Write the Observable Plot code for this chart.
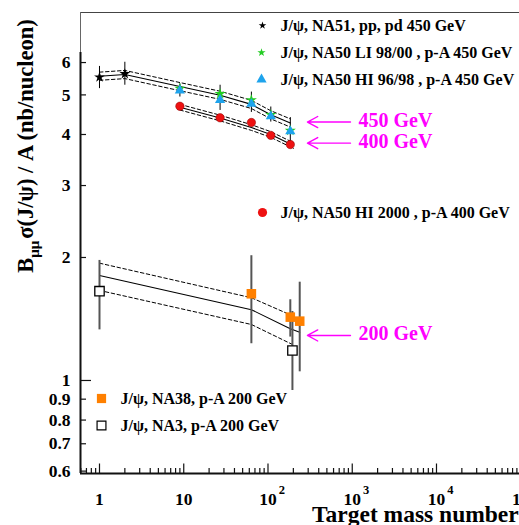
<!DOCTYPE html>
<html><head><meta charset="utf-8">
<script src="https://cdn.jsdelivr.net/npm/d3@7"></script>
<script src="https://cdn.jsdelivr.net/npm/@observablehq/plot@0.6"></script>
<style>html,body{margin:0;padding:0;overflow:hidden;background:#fff;width:519px;height:525px}
#chart{width:519px;height:525px;overflow:hidden}
#chart svg{max-width:none !important;width:540px;height:525px}</style>
</head><body><div id="chart"></div>
<script>
// ---------- data ----------
const A_NA51 = [1, 2];
const V_NA51 = [5.525, 5.63];
const LO_NA51 = [5.18, 5.28];
const HI_NA51 = [5.87, 6.01];

const A_NA50 = [9, 27, 63.5, 108, 184];
const V_LI9800 = [5.18, 5.03, 4.86, 4.47, 4.09];
const V_HI9698 = [5.125, 4.86, 4.755, 4.43, 4.07];
const LO_450 = [4.94, 4.58, 4.53, 4.29, 3.72];
const HI_450 = [5.32, 5.28, 5.08, 4.67, 4.40];
const V_HI2000 = [4.69, 4.395, 4.28, 3.98, 3.78];

const A_NA38 = [63.5, 184, 238];
const V_NA38 = [1.63, 1.429, 1.397];
const LO_NA38 = [1.23, 1.277, 1.05];
const HI_NA38 = [2.02, 1.576, 1.74];

const A_NA3 = [1, 195];
const V_NA3 = [1.654, 1.184];
const LO_NA3 = [1.33, 0.945];
const HI_NA3 = [1.967, 1.475];

// fitted curves
const A_FIT450 = [1, 2, 9, 27, 63.5, 108, 184];
const V_FIT450 = [5.556, 5.61, 5.24, 4.99, 4.74, 4.47, 4.27];
const BAND450 = 0.023;
const A_FIT400 = [9, 27, 63.5, 108, 200];
const V_FIT400 = [4.666, 4.39, 4.16, 4.0, 3.76];
const BAND400 = 0.016;
const A_FIT200 = [1, 63.5, 184, 238];
const V_FIT200 = [1.807, 1.49, 1.338, 1.313];
const A_BAND200 = [1, 63.5, 195];
const V_BAND200_HI = [1.937, 1.594, 1.44];
const V_BAND200_LO = [1.661, 1.371, 1.225];

// axes
const X_MAJOR = [1, 10, 100, 1000, 10000, 100000];
const X_LABELS = ["1", "10", "10", "10", "10", "10"];
const X_EXP = ["", "", "2", "3", "4", "5"];
const Y_TICKS = [0.6, 0.7, 0.8, 0.9, 1, 2, 3, 4, 5, 6];
const Y_LABELS = ["0.6", "0.7", "0.8", "0.9", "1", "2", "3", "4", "5", "6"];

// legend
const LEGEND_TOP = ["J/ψ, NA51, pp, pd 450 GeV", "J/ψ, NA50 LI 98/00 , p-A 450 GeV", "J/ψ, NA50 HI 96/98 , p-A 450 GeV"];
const LEGEND_400 = "J/ψ, NA50 HI 2000 , p-A 400 GeV";
const LEGEND_BOT = ["J/ψ, NA38, p-A 200 GeV", "J/ψ, NA3, p-A 200 GeV"];

// energy annotations
const ENERGY_LABELS = ["450 GeV", "400 GeV", "200 GeV"];
const ENERGY_Y = [4.29, 3.81, 1.289];
const ARROW_X_TAIL = 953, ARROW_X_TIP = 294, LABEL_X = 1187;

// ---------- helpers ----------
const zip = (xs, ys) => xs.map((x, i) => ({x, y: ys[i]}));
const bars = (xs, lo, hi) => xs.map((x, i) => ({x, lo: lo[i], hi: hi[i]}));

const xmin = 0.595, xmax = 171600, ymin = 0.592, ymax = 7.955;
const pxX = 84.25, pxY = 408.6;
const xOff = px => xmin * Math.pow(10, px / pxX);
const yOff = px => ymin * Math.pow(10, px / pxY);
const yAxisTop = 6.35;

const xMinor = [];
for (let d = -1; d <= 5; d++) for (let k = 2; k <= 9; k++) {
  const v = k * Math.pow(10, d);
  if (v > xmin && v < xmax) xMinor.push(v);
}

const FONT = "Liberation Serif, Times New Roman, serif";
const GREEN = "#22cc22", CYAN = "#1ea3ec", RED = "#ee1111", ORANGE = "#ff8000", MAGENTA = "#ff00ff";
const legendText = (txt, dx, dy) => Plot.text([txt], {frameAnchor: "top-left", dx, dy, text: d => d, textAnchor: "start", lineAnchor: "middle", fontSize: 16, fontWeight: "bold", fill: "black"});

const marks = [
  // frame / axes
  Plot.ruleY([ymax], {stroke: "#444", strokeWidth: 1}),
  Plot.ruleX([xmin], {y1: yAxisTop, y2: ymax, stroke: "#666", strokeWidth: 1}),
  Plot.ruleX([xmin], {y1: ymin, y2: yAxisTop, stroke: "#111", strokeWidth: 2}),
  Plot.ruleY([ymin], {stroke: "#111", strokeWidth: 2}),
  Plot.ruleX(X_MAJOR, {x: d => d, y1: ymin, y2: yOff(9.5), stroke: "#111", strokeWidth: 1.2}),
  Plot.ruleX(xMinor, {x: d => d, y1: ymin, y2: yOff(5), stroke: "#111", strokeWidth: 1.2}),
  Plot.ruleY(Y_TICKS, {y: d => d, x1: xmin, x2: d => d === 1 ? xOff(11) : xOff(6), stroke: "#111", strokeWidth: 1.2}),
  Plot.text(Y_TICKS, {x: xmin, y: d => d, text: (d, i) => Y_LABELS[i], dx: -10, textAnchor: "end", fontSize: 17.5, fontWeight: "bold", fill: "black"}),
  Plot.text(X_MAJOR, {x: d => d, y: ymin, text: (d, i) => X_LABELS[i], dy: 25.5, textAnchor: "middle", fontSize: 17.5, fontWeight: "bold", fill: "black"}),
  Plot.text(X_MAJOR, {x: d => d, y: ymin, text: (d, i) => X_EXP[i], dy: 16, dx: 14, textAnchor: "middle", fontSize: 12.5, fontWeight: "bold", fill: "black"}),

  // fit curves
  Plot.line(zip(A_FIT450, V_FIT450), {x: "x", y: "y", stroke: "black", strokeWidth: 1.1}),
  Plot.line(zip(A_FIT450, V_FIT450.map(v => v * (1 + BAND450))), {x: "x", y: "y", stroke: "black", strokeWidth: 1, strokeDasharray: "3.5,2.5"}),
  Plot.line(zip(A_FIT450, V_FIT450.map(v => v * (1 - BAND450))), {x: "x", y: "y", stroke: "black", strokeWidth: 1, strokeDasharray: "3.5,2.5"}),
  Plot.line(zip(A_FIT400, V_FIT400), {x: "x", y: "y", stroke: "black", strokeWidth: 1.1}),
  Plot.line(zip(A_FIT400, V_FIT400.map(v => v * (1 + BAND400))), {x: "x", y: "y", stroke: "black", strokeWidth: 1, strokeDasharray: "3.5,2.5"}),
  Plot.line(zip(A_FIT400, V_FIT400.map(v => v * (1 - BAND400))), {x: "x", y: "y", stroke: "black", strokeWidth: 1, strokeDasharray: "3.5,2.5"}),
  Plot.line(zip(A_FIT200, V_FIT200), {x: "x", y: "y", stroke: "black", strokeWidth: 1.1}),
  Plot.line(zip(A_BAND200, V_BAND200_HI), {x: "x", y: "y", stroke: "black", strokeWidth: 1, strokeDasharray: "3.5,2.5"}),
  Plot.line(zip(A_BAND200, V_BAND200_LO), {x: "x", y: "y", stroke: "black", strokeWidth: 1, strokeDasharray: "3.5,2.5"}),

  // error bars
  Plot.ruleX(bars(A_NA51, LO_NA51, HI_NA51), {x: "x", y1: "lo", y2: "hi", stroke: "black", strokeWidth: 1}),
  Plot.ruleX(bars(A_NA50, LO_450, HI_450), {x: "x", y1: "lo", y2: "hi", stroke: "black", strokeWidth: 1}),
  Plot.ruleX(bars(A_NA38, LO_NA38, HI_NA38), {x: "x", y1: "lo", y2: "hi", stroke: "#555", strokeWidth: 2}),
  Plot.ruleX(bars(A_NA3, LO_NA3, HI_NA3), {x: "x", y1: "lo", y2: "hi", stroke: "#555", strokeWidth: 2}),

  // points
  Plot.dot(zip(A_NA50, V_HI2000), {x: "x", y: "y", symbol: "circle", r: 4.2, fill: RED, stroke: "#800", strokeWidth: 0.5}),
  Plot.dot(zip(A_NA50, V_LI9800), {x: "x", y: "y", symbol: "star", r: 3.5, fill: GREEN, stroke: "none"}),
  Plot.dot(zip(A_NA50, V_HI9698), {x: "x", y: "y", symbol: "triangle", r: 3.8, fill: CYAN, stroke: "none"}),
  Plot.dot(zip(A_NA51, V_NA51), {x: "x", y: "y", symbol: "star", r: 3.4, fill: "black", stroke: "none"}),
  Plot.dot(zip(A_NA38, V_NA38), {x: "x", y: "y", symbol: "square", r: 5.4, fill: ORANGE, stroke: "none"}),
  Plot.dot(zip(A_NA3, V_NA3), {x: "x", y: "y", symbol: "square", r: 5.3, fill: "white", stroke: "black", strokeWidth: 1.3}),

  // legend markers
  Plot.dot([0], {frameAnchor: "top-left", dx: 182, dy: 13, symbol: "star", r: 2.4, fill: "black", stroke: "none"}),
  Plot.dot([0], {frameAnchor: "top-left", dx: 181, dy: 40, symbol: "star", r: 2.6, fill: GREEN, stroke: "none"}),
  Plot.dot([0], {frameAnchor: "top-left", dx: 181, dy: 67, symbol: "triangle", r: 3.8, fill: CYAN, stroke: "none"}),
  Plot.dot([0], {frameAnchor: "top-left", dx: 182, dy: 200, symbol: "circle", r: 4.6, fill: RED, stroke: "none"}),
  Plot.dot([0], {frameAnchor: "top-left", dx: 21, dy: 386, symbol: "square", r: 5.2, fill: ORANGE, stroke: "none"}),
  Plot.dot([0], {frameAnchor: "top-left", dx: 21, dy: 413, symbol: "square", r: 5, fill: "white", stroke: "black", strokeWidth: 1.2}),
  // legend texts
  legendText(LEGEND_TOP[0], 200, 13),
  legendText(LEGEND_TOP[1], 200, 40),
  legendText(LEGEND_TOP[2], 200, 67),
  legendText(LEGEND_400, 200, 200),
  legendText(LEGEND_BOT[0], 40, 386),
  legendText(LEGEND_BOT[1], 40, 413),

  // energy annotations
  Plot.arrow(ENERGY_Y, {x1: ARROW_X_TAIL, x2: ARROW_X_TIP, y1: d => d, y2: d => d, stroke: MAGENTA, strokeWidth: 1.4, headAngle: 57, headLength: 12.5}),
  Plot.text(ENERGY_LABELS, {x: LABEL_X, y: (d, i) => ENERGY_Y[i], text: d => d, textAnchor: "start", lineAnchor: "middle", dy: -1.5, fontSize: 20, fontWeight: "bold", fill: MAGENTA})
];

const svg = Plot.plot({
  width: 540, height: 525,
  marginLeft: 80, marginRight: 0, marginTop: 12, marginBottom: 52,
  style: {fontFamily: FONT, background: "white", overflow: "visible", maxWidth: "none"},
  x: {type: "log", domain: [xmin, xmax], axis: null},
  y: {type: "log", domain: [ymin, ymax], axis: null},
  marks
});

const s = d3.select(svg);
s.style("max-width", "none");
// x-axis title
s.append("text")
  .attr("x", 312).attr("y", 521.5)
  .attr("text-anchor", "start")
  .style("font-family", FONT).style("font-weight", "bold").style("font-size", "23.5px")
  .attr("fill", "black")
  .text("Target mass number");
// y-axis title with subscript
const yt = s.append("text")
  .attr("transform", "translate(33,146) rotate(-90)")
  .attr("text-anchor", "middle")
  .style("font-family", FONT).style("font-weight", "bold").style("font-size", "22.5px")
  .attr("fill", "black");
yt.append("tspan").text("B");
yt.append("tspan").attr("dy", 6).style("font-size", "15px").text("μμ");
yt.append("tspan").attr("dy", -6).attr("dx", 2).text("σ(J/ψ) / A (nb/nucleon)");

document.getElementById("chart").appendChild(svg);
</script></body></html>
